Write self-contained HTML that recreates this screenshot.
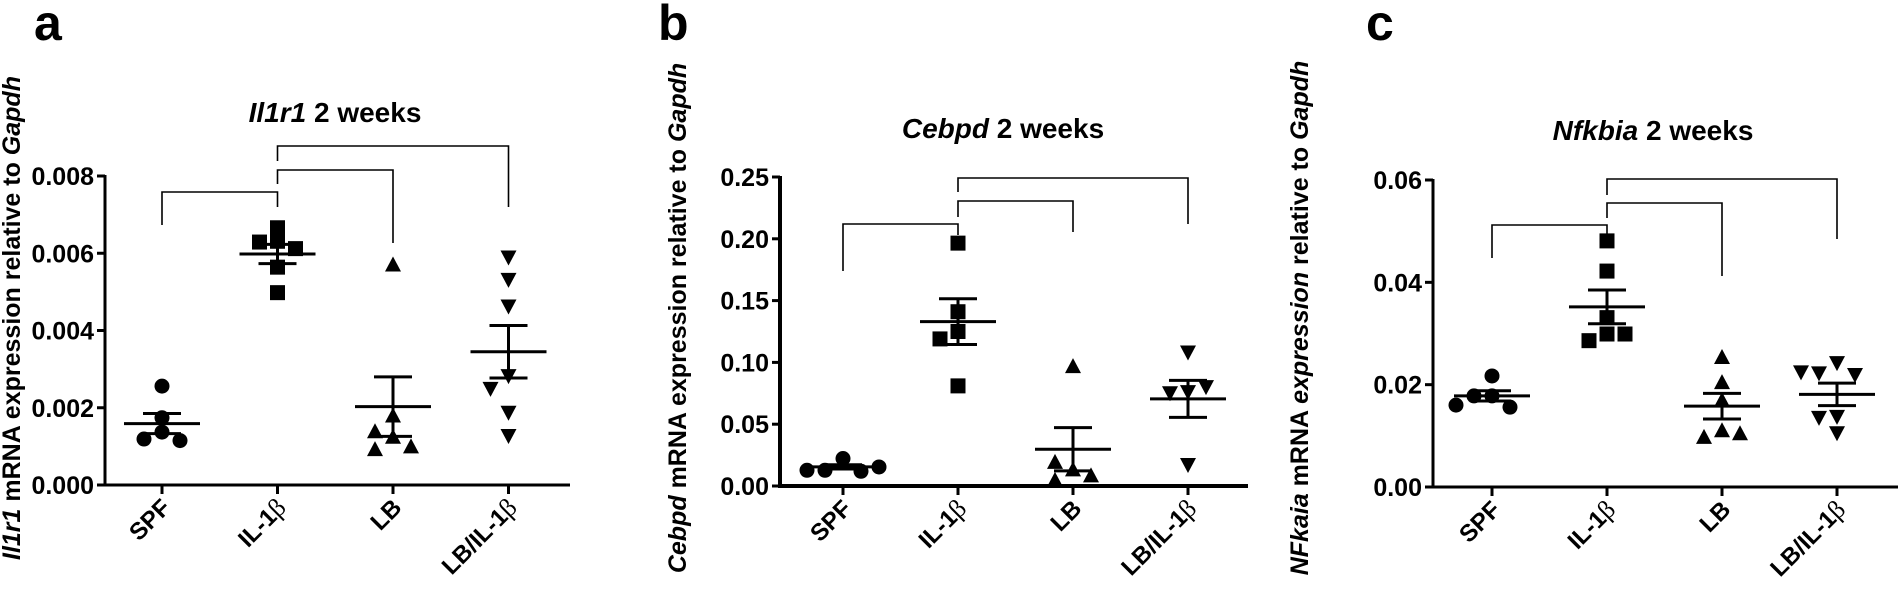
<!DOCTYPE html>
<html><head><meta charset="utf-8"><style>
html,body{margin:0;padding:0;background:#fff;}
svg{display:block;font-family:"Liberation Sans",Arial,sans-serif;}
</style></head><body>
<svg id="fig" width="1898" height="590" viewBox="0 0 1898 590" xmlns="http://www.w3.org/2000/svg"></svg>
<script>
const categories = ["SPF", "IL-1", "LB", "LB/IL-1"];
// Panel a: Il1r1
const aSPF = [0.00256, 0.00174, 0.00137, 0.00119, 0.00115];
const aIL = [0.00666, 0.00631, 0.00629, 0.00612, 0.00564, 0.00498];
const aLB = [0.00571, 0.00180, 0.00125, 0.00139, 0.00093, 0.00100];
const aLBIL = [0.00589, 0.00531, 0.00462, 0.00282, 0.00249, 0.00187, 0.00127];
const aMeans = [0.00159, 0.00598, 0.00203, 0.00345];
const aSEM = [0.00026, 0.00025, 0.00077, 0.00068];
const aTicks = [0, 0.002, 0.004, 0.006, 0.008];
const aTickLabels = ["0.000", "0.002", "0.004", "0.006", "0.008"];
// Panel b: Cebpd
const bSPF = [0.0222, 0.0127, 0.0119, 0.0127, 0.0154];
const bIL = [0.1965, 0.141, 0.125, 0.119, 0.081];
const bLB = [0.097, 0.0135, 0.005, 0.0086, 0.0195];
const bLBIL = [0.108, 0.076, 0.075, 0.080, 0.017];
const bMeans = [0.0155, 0.133, 0.0297, 0.0705];
const bSEM = [0.0017, 0.0185, 0.0175, 0.015];
const bTicks = [0, 0.05, 0.10, 0.15, 0.20, 0.25];
const bTickLabels = ["0.00", "0.05", "0.10", "0.15", "0.20", "0.25"];
// Panel c: Nfkbia
const cSPF = [0.0217, 0.0178, 0.0178, 0.0156, 0.0160];
const cIL = [0.0481, 0.0422, 0.0331, 0.0299, 0.0286, 0.0299];
const cLB = [0.0254, 0.0205, 0.0170, 0.0111, 0.0098, 0.0105];
const cLBIL = [0.0242, 0.0222, 0.0219, 0.0224, 0.0137, 0.0135, 0.0105];
const cMeans = [0.0178, 0.0352, 0.0158, 0.0181];
const cSEM = [0.0010, 0.0033, 0.0025, 0.0022];
const cTicks = [0, 0.02, 0.04, 0.06];
const cTickLabels = ["0.00", "0.02", "0.04", "0.06"];

const NS = "http://www.w3.org/2000/svg";
const svg = document.getElementById("fig");
function mk(tag, attrs, parent) {
  const e = document.createElementNS(NS, tag);
  for (const k in attrs) e.setAttribute(k, attrs[k]);
  (parent || svg).appendChild(e);
  return e;
}

function panel(cfg) {
  const g = mk("g", {});
  
  
  const yS = v => cfg.y0 - (v / cfg.ymax) * (cfg.y0 - cfg.yTop);
  const xS = i => cfg.x0 + cfg.off + i * cfg.step;
  const L = mk("text", {x: cfg.letterX, y: 40, "font-size": 50, "font-weight": "bold"}, g);
  L.textContent = cfg.id;
  
  
  const T = mk("text", {x: cfg.titleX, y: cfg.titleY, "font-size": 28, "font-weight": "bold", "text-anchor": "middle"}, g);
  
  
  const ti = mk("tspan", {"font-style": "italic"}, T); ti.textContent = cfg.gene;
  const t2 = mk("tspan", {}, T); t2.textContent = " 2 weeks";
  const Y = mk("text", {x: 0, y: 0, "font-size": 25, "font-weight": "bold", "text-anchor": "middle",
    transform: `translate(${cfg.ytX},${cfg.ytY}) rotate(-90)`}, g);
  
  
  const y1 = mk("tspan", {"font-style": "italic"}, Y); y1.textContent = cfg.yGene;
  const y2 = mk("tspan", {}, Y); y2.textContent = " mRNA ";
  const y3 = mk("tspan", {"font-style": cfg.exprItalic ? "italic" : "normal"}, Y); y3.textContent = "expression";
  const y4 = mk("tspan", {}, Y); y4.textContent = " relative to ";
  const y5 = mk("tspan", {"font-style": "italic"}, Y); y5.textContent = "Gapdh";
  const ya = mk("line", {x1: cfg.x0, y1: cfg.yTop - 1, x2: cfg.x0, y2: cfg.y0 + 1.5, stroke: "#000", "stroke-width": cfg.aw}, g);
  
  
  const xa = mk("line", {x1: cfg.x0 - cfg.aw / 2, y1: cfg.y0, x2: cfg.xEnd, y2: cfg.y0, stroke: "#000", "stroke-width": cfg.aw}, g);
  
  
  cfg.ticks.forEach((t, i) => {
    const yy = yS(t);
    const tk = mk("line", {x1: cfg.x0 - 8, y1: yy, x2: cfg.x0, y2: yy, stroke: "#000", "stroke-width": 3}, g);
    
    
    const tl = mk("text", {x: cfg.x0 - 11, y: yy + 9, "font-size": 25, "font-weight": "bold", "text-anchor": "end"}, g);
    tl.textContent = cfg.tickLabels[i];
    
    
  });
  categories.forEach((c, i) => {
    const xx = xS(i);
    const tk = mk("line", {x1: xx, y1: cfg.y0, x2: xx, y2: cfg.y0 + 9, stroke: "#000", "stroke-width": 3}, g);
    
    
    const tl = mk("text", {x: 0, y: 0, "font-size": 24, "font-weight": "bold", "text-anchor": "end",
      transform: `translate(${xx + 10},${cfg.y0 + 24}) rotate(-45)`}, g);
    
    
    const s1 = mk("tspan", {}, tl); s1.textContent = c;
    if (c.endsWith("IL-1")) {
      const b = mk("tspan", {"font-family": "Liberation Serif, serif", "font-weight": "normal", "font-size": 26}, tl);
      b.textContent = "β";
    }
  });
  cfg.brackets.forEach(b => {
    const xa1 = xS(b[0]), xb1 = xS(b[1]);
    const p = mk("path", {d: `M${xa1},${b[3]} V${b[2]} H${xb1} V${b[4]}`, fill: "none", stroke: "#000", "stroke-width": 1.6}, g);
    
    
  });
  cfg.series.forEach((vals, i) => {
    const cx = xS(i);
    const sg = mk("g", {}, g);
    
    
    const m = yS(cfg.means[i]), hi = yS(cfg.means[i] + cfg.sem[i]), lo = yS(Math.max(0, cfg.means[i] - cfg.sem[i]));
    const ml = mk("line", {x1: cx - 38, y1: m, x2: cx + 38, y2: m, stroke: "#000", "stroke-width": 3}, sg);
    
    
    const ev = mk("path", {d: `M${cx - 19},${hi} H${cx + 19} M${cx},${hi} V${lo} M${cx - 19},${lo} H${cx + 19}`, fill: "none", stroke: "#000", "stroke-width": 3}, sg);
    
    
    const placed = [];
    vals.forEach((v, k) => {
      const y = yS(v);
      const near = placed.filter(p => Math.abs(p.y - y) < 13);
      const offs = [0, -18, 18, -36, 36, -54, 54];
      let dx = 0;
      for (const o of offs) { if (!near.some(p => Math.abs(p.dx - o) < 14)) { dx = o; break; } }
      placed.push({y, dx});
      const x = cx + dx;
      let mkEl;
      if (i === 0) mkEl = mk("circle", {cx: x, cy: y, r: 7.5, fill: "#000"}, sg);
      else if (i === 1) mkEl = mk("rect", {x: x - 7.5, y: y - 7.5, width: 15, height: 15, fill: "#000"}, sg);
      else if (i === 2) mkEl = mk("path", {d: `M${x},${y - 8} L${x + 8},${y + 7} L${x - 8},${y + 7} Z`, fill: "#000"}, sg);
      else mkEl = mk("path", {d: `M${x - 8},${y - 7} L${x + 8},${y - 7} L${x},${y + 8} Z`, fill: "#000"}, sg);
      
      
    });
  });
}

panel({id: "a", gene: "Il1r1", yGene: "Il1r1", exprItalic: false, letterX: 34, titleX: 335, titleY: 122,
  ytX: 20, ytY: 318, x0: 105, off: 57, step: 115.5, xEnd: 570, y0: 485, yTop: 176, ymax: 0.008, aw: 3,
  ticks: aTicks, tickLabels: aTickLabels, series: [aSPF, aIL, aLB, aLBIL], means: aMeans, sem: aSEM,
  brackets: [[0, 1, 192, 225, 207], [1, 2, 170, 184, 243], [1, 3, 146, 161, 207]]});
panel({id: "b", gene: "Cebpd", yGene: "Cebpd", exprItalic: false, letterX: 658, titleX: 1003, titleY: 138,
  ytX: 686, ytY: 318, x0: 780, off: 63, step: 115, xEnd: 1248, y0: 486, yTop: 177, ymax: 0.25, aw: 4,
  ticks: bTicks, tickLabels: bTickLabels, series: [bSPF, bIL, bLB, bLBIL], means: bMeans, sem: bSEM,
  brackets: [[0, 1, 224, 271, 235], [1, 2, 201, 217, 232], [1, 3, 178, 192, 224]]});
panel({id: "c", gene: "Nfkbia", yGene: "NFkaia", exprItalic: true, letterX: 1366, titleX: 1653, titleY: 140,
  ytX: 1308, ytY: 318, x0: 1433, off: 59, step: 115, xEnd: 1898, y0: 487, yTop: 180, ymax: 0.06, aw: 3,
  ticks: cTicks, tickLabels: cTickLabels, series: [cSPF, cIL, cLB, cLBIL], means: cMeans, sem: cSEM,
  brackets: [[0, 1, 225, 258, 235], [1, 2, 203, 218, 276], [1, 3, 179, 195, 239]]});
</script>
</body></html>
